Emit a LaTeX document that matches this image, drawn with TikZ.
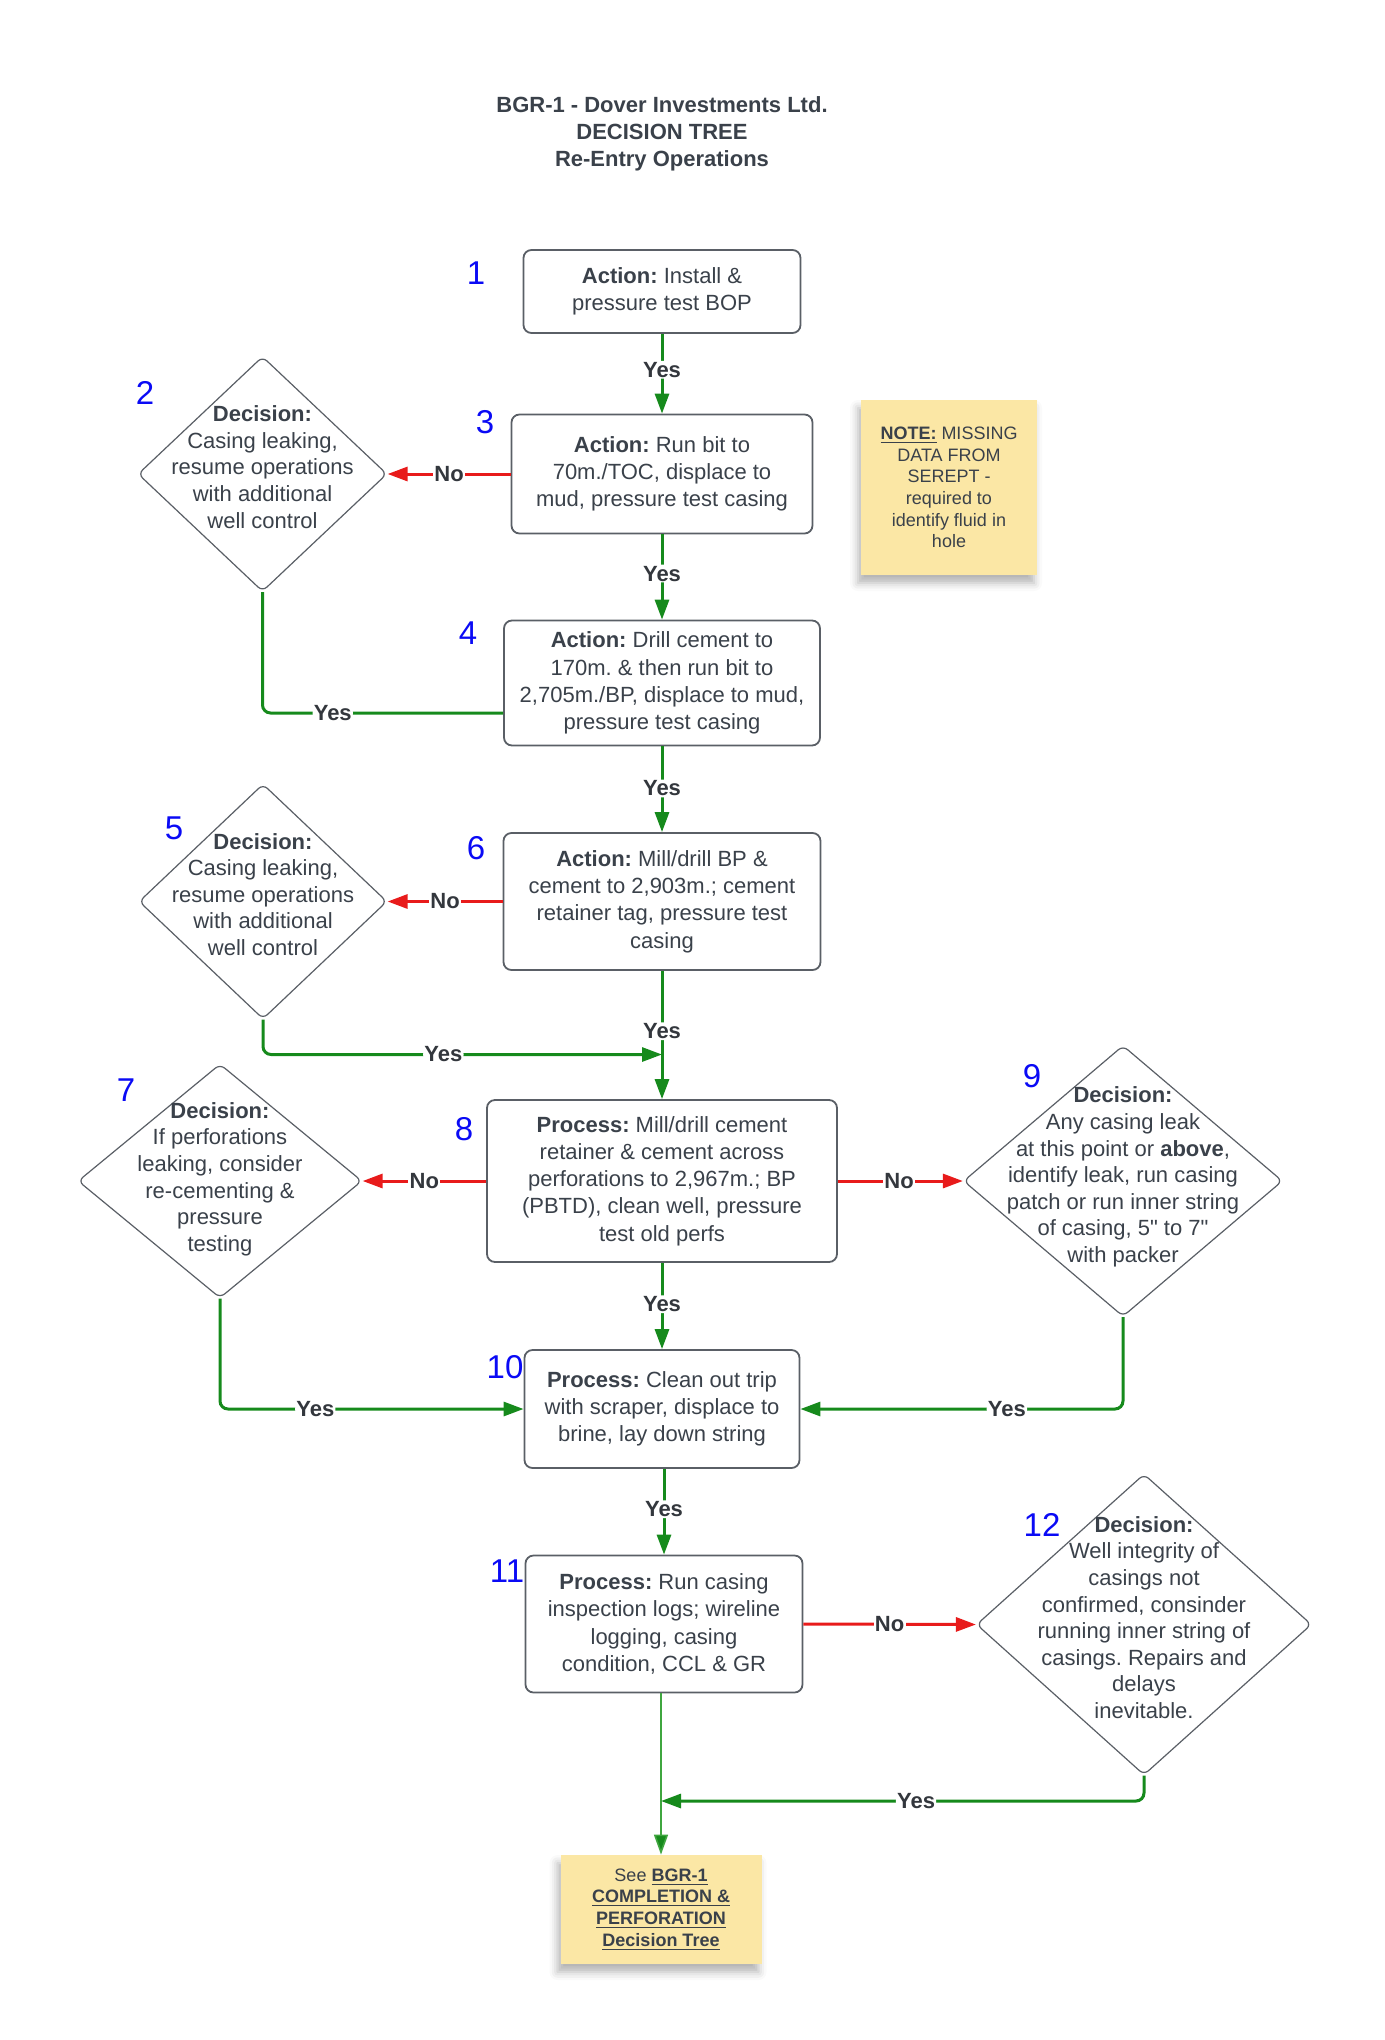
\documentclass[tikz,border=0pt]{standalone}
\usepackage{fontspec}
\setmainfont{Liberation Sans}[Ligatures=TeXOff]
\usetikzlibrary{shapes.geometric,arrows.meta,shadows.blur}
\definecolor{txt}{HTML}{3A414A}
\definecolor{bord}{HTML}{5A5F66}
\definecolor{gr}{HTML}{168A1C}
\definecolor{grl}{HTML}{3FA63F}
\definecolor{rd}{HTML}{E81B1B}
\definecolor{numb}{HTML}{0A0AF5}
\definecolor{labc}{HTML}{33373D}
\definecolor{notey}{HTML}{FBE7A5}
\frenchspacing
\begin{document}
\frenchspacing
\begin{tikzpicture}[x=0.5pt,y=-0.5pt,
  box/.style={draw=bord, line width=0.9pt, rounded corners=4pt, fill=white, align=center, text=txt, inner sep=0pt, font=\fontsize{11}{13.6}\selectfont},
  dia/.style={draw=bord, line width=0.6pt, diamond, rounded corners=3pt, inner sep=0pt, fill=white},
  dtext/.style={align=center, text=txt, inner sep=0pt, font=\fontsize{11}{13.3}\selectfont},
  num/.style={text=numb, inner sep=0pt, font=\fontsize{16.5}{17}\selectfont},
  note/.style={fill=notey, align=center, text=txt, inner sep=0pt, font=\fontsize{9}{10.8}\selectfont,
     blur shadow={shadow xshift=-1.5pt, shadow yshift=-4pt, shadow blur radius=4pt, shadow opacity=30}},
  lab/.style={fill=white, inner sep=0.6pt, text=labc, font=\fontsize{11}{13}\selectfont\bfseries},
  tip/.style={-{Triangle[length=10pt,width=7pt]}},
  yes/.style={draw=gr, line width=1.5pt, rounded corners=4pt, tip},
  no/.style={draw=rd, line width=1.5pt, -{Triangle[length=10pt,width=7pt,fill=rd]}},
]
\useasboundingbox (0,0) rectangle (1385,2040);

% title
\node[align=center, text=txt, font=\fontsize{11}{13.6}\selectfont\bfseries] (title) at (662,134)
  {BGR-1 - Dover Investments Ltd.\\DECISION TREE\\Re-Entry Operations};

% boxes
\node[box, minimum width=138.5pt, minimum height=41.5pt] (b1) at (662,291.5)
  {\textbf{Action:} Install \&\\pressure test BOP};
\node[box, minimum width=150.5pt, minimum height=59.5pt] (b3) at (662,474)
  {\textbf{Action:} Run bit to\\70m./TOC, displace to\\mud, pressure test casing};
\node[box, minimum width=158pt, minimum height=62.5pt] (b4) at (662,683)
  {\textbf{Action:} Drill cement to\\170m. \& then run bit to\\2,705m./BP, displace to mud,\\pressure test casing};
\node[box, minimum width=158.5pt, minimum height=68.5pt] (b6) at (662,901.5)
  {\textbf{Action:} Mill/drill BP \&\\cement to 2,903m.; cement\\retainer tag, pressure test\\casing};
\node[box, minimum width=175pt, minimum height=81pt] (b8) at (662,1181)
  {\textbf{Process:} Mill/drill cement\\retainer \& cement across\\perforations to 2,967m.; BP\\(PBTD), clean well, pressure\\test old perfs};
\node[box, minimum width=137.5pt, minimum height=59pt] (b10) at (662,1409)
  {\textbf{Process:} Clean out trip\\with scraper, displace to\\brine, lay down string};
\node[box, minimum width=138.5pt, minimum height=68.5pt] (b11) at (664,1624)
  {\textbf{Process:} Run casing\\inspection logs; wireline\\logging, casing\\condition, CCL \& GR};

% diamonds
\node[dia, minimum width=124.5pt, minimum height=117.5pt] (d2) at (262.5,474) {};
\node[dtext] (d2t) at ([yshift=3.5pt]d2.center)
  {\textbf{Decision:}\\Casing leaking,\\resume operations\\with additional\\well control};
\node[dia, minimum width=124pt, minimum height=117.5pt] (d5) at (263,901.5) {};
\node[dtext] (d5t) at ([yshift=3.5pt]d5.center)
  {\textbf{Decision:}\\Casing leaking,\\resume operations\\with additional\\well control};
\node[dia, minimum width=142pt, minimum height=117pt] (d7) at (220,1181) {};
\node[dtext] (d7t) at ([yshift=1pt]d7.center)
  {\textbf{Decision:}\\If perforations\\leaking, consider\\re-cementing \&\\pressure\\testing};
\node[dia, minimum width=159.5pt, minimum height=135.5pt] (d9) at (1123,1181) {};
\node[dtext] (d9t) at ([yshift=2pt]d9.center)
  {\textbf{Decision:}\\Any casing leak\\at this point or \textbf{above},\\identify leak, run casing\\patch or run inner string\\of casing, 5" to 7"\\with packer};
\node[dia, minimum width=167.5pt, minimum height=150.5pt] (d12) at (1144,1624.5) {};
\node[dtext] (d12t) at ([yshift=3.5pt]d12.center)
  {\textbf{Decision:}\\Well integrity of\\casings not\\confirmed, consinder\\running inner string of\\casings. Repairs and\\delays\\inevitable.};

% notes
\node[note, minimum width=88pt, minimum height=87.5pt] (n1) at (949,487.5)
  {\underline{\textbf{NOTE:}} MISSING\\DATA FROM\\SEREPT -\\required to\\identify fluid in\\hole};
\node[note, minimum width=100.5pt, minimum height=54.5pt] (n2) at (661,1909.5)
  {See \underline{\textbf{BGR-1}}\\\underline{\textbf{COMPLETION \&}}\\\underline{\textbf{PERFORATION}}\\\underline{\textbf{Decision Tree}}};

% step numbers
\node[num] (k1) at (476,273) {1};
\node[num] (k2) at (145,393) {2};
\node[num] (k3) at (485,422) {3};
\node[num] (k4) at (468,633) {4};
\node[num] (k5) at (174,828) {5};
\node[num] (k6) at (476,848) {6};
\node[num] (k7) at (126,1090) {7};
\node[num] (k8) at (464,1129) {8};
\node[num] (k9) at (1032,1076) {9};
\node[num] (k10) at (505,1367) {10};
\node[num] (k11) at (507,1571) {11};
\node[num] (k12) at (1042,1525) {12};

% junction points
\coordinate (j4) at ([yshift=-15pt]b4.west);
\coordinate (j5) at (662,1054.5);
\coordinate (j12) at (661,1801);
\coordinate (j11) at (b11.south -| n2.north);

% vertical yes connectors
\draw[yes] (b1.south) -- node[lab, pos=0.45] {Yes} (b3.north);
\draw[yes] (b3.south) -- node[lab, pos=0.46] {Yes} (b4.north);
\draw[yes] (b4.south) -- node[lab, pos=0.49] {Yes} (b6.north);
\draw[yes] (b6.south) -- node[lab, pos=0.47] {Yes} (b8.north);
\draw[yes] (b8.south) -- node[lab, pos=0.48] {Yes} (b10.north);
\draw[yes] (b10.south -| b11.north) -- node[lab, pos=0.47] {Yes} (b11.north);
\draw[draw=grl, line width=0.8pt, -{Triangle[length=10pt,width=7pt,fill=gr]}] (j11) -- (n2.north);

% no connectors
\draw[no] (b3.west) -- node[lab, pos=0.5] {No} (d2.east);
\draw[no] (b6.west) -- node[lab, pos=0.5] {No} (d5.east);
\draw[no] (b8.west) -- node[lab, pos=0.5] {No} (d7.east);
\draw[no] (b8.east) -- node[lab, pos=0.49] {No} (d9.west);
\draw[no] (b11.east) -- node[lab, pos=0.5] {No} (d12.west);

% elbow yes connectors
\draw[draw=gr, line width=1.5pt, rounded corners=4pt] (d2.south) |- node[lab, pos=0.646] {Yes} (j4);
\draw[yes] (d5.south) |- node[lab, pos=0.726] {Yes} (j5);
\draw[yes] (d7.south) |- node[lab, pos=0.657] {Yes} (b10.west);
\draw[yes] (d9.south) |- node[lab, pos=0.68] {Yes} (b10.east);
\draw[yes] (d12.south) |- node[lab, pos=0.736] {Yes} (j12);
\end{tikzpicture}
\end{document}
